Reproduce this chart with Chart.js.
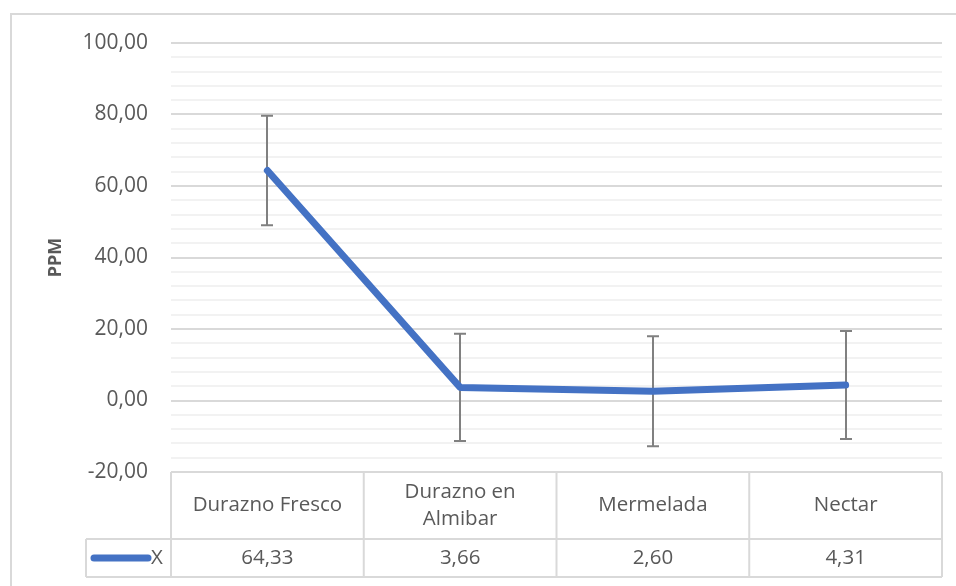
<!DOCTYPE html>
<html>
<head>
<meta charset="utf-8">
<script src="https://cdn.jsdelivr.net/npm/chart.js@4.4.0/dist/chart.umd.min.js"></script>
<style>
    html, body { margin: 0; padding: 0; background: #fff; }
    #wrap { width: 956px; height: 586px; position: relative; }
</style>
</head>
<body>
<div id="wrap"><canvas id="ppmChart" width="956" height="586"></canvas></div>
<script>
var categories = [['Durazno Fresco'], ['Durazno en', 'Almibar'], ['Mermelada'], ['Nectar']];
var seriesName = 'X';
var values = [64.33, 3.66, 2.60, 4.31];
var errors = [15.3, 15.0, 15.4, 15.1];
var yTicks = [-20, 0, 20, 40, 60, 80, 100];

var fmt = function (v) {
    return v.toFixed(2).replace('.', ',');
};

var font = '"Open Sans", "Noto Sans", sans-serif';
var textColor = '#595959';
var lineColor = '#4472C4';

// border of the chart frame
var framePlugin = {
    id: 'frame',
    beforeDraw: function (chart) {
        var ctx = chart.ctx;
        ctx.save();
        ctx.strokeStyle = '#d9d9d9';
        ctx.lineWidth = 2;
        ctx.beginPath();
        ctx.moveTo(11, 600);
        ctx.lineTo(11, 14);
        ctx.lineTo(970, 14);
        ctx.stroke();
        ctx.restore();
    }
};

// error bars behind the line
var errorBarPlugin = {
    id: 'errorBars',
    beforeDatasetsDraw: function (chart) {
        var ctx = chart.ctx;
        var x = chart.scales.x;
        var y = chart.scales.y;
        ctx.save();
        ctx.strokeStyle = '#808080';
        ctx.lineWidth = 2;
        for (var i = 0; i < values.length; i++) {
            var px = Math.round(x.getPixelForValue(i));
            var top = y.getPixelForValue(values[i] + errors[i]);
            var bot = y.getPixelForValue(values[i] - errors[i]);
            ctx.beginPath();
            ctx.moveTo(px, top);
            ctx.lineTo(px, bot);
            ctx.moveTo(px - 6, top);
            ctx.lineTo(px + 6, top);
            ctx.moveTo(px - 6, bot);
            ctx.lineTo(px + 6, bot);
            ctx.stroke();
        }
        ctx.restore();
    }
};

// data table under the plot
var dataTablePlugin = {
    id: 'dataTable',
    afterDraw: function (chart) {
        var ctx = chart.ctx;
        var area = chart.chartArea;
        var x = chart.scales.x;
        var n = categories.length;
        var colW = (area.right - area.left) / n;
        var top = area.bottom;
        var mid = top + 67;
        var bottom = mid + 38;
        var legendLeft = 86;
        ctx.save();
        ctx.strokeStyle = '#d9d9d9';
        ctx.lineWidth = 2;
        ctx.beginPath();
        ctx.moveTo(area.left, top);
        ctx.lineTo(area.right, top);
        ctx.moveTo(legendLeft, mid);
        ctx.lineTo(area.right, mid);
        ctx.moveTo(legendLeft, bottom);
        ctx.lineTo(area.right, bottom);
        ctx.moveTo(legendLeft, mid);
        ctx.lineTo(legendLeft, bottom);
        for (var c = 0; c <= n; c++) {
            var cx = area.left + c * colW;
            ctx.moveTo(cx, top);
            ctx.lineTo(cx, bottom);
        }
        ctx.stroke();

        ctx.fillStyle = textColor;
        ctx.font = '20.5px ' + font;
        ctx.textAlign = 'center';
        ctx.textBaseline = 'middle';
        for (var i = 0; i < n; i++) {
            var px = x.getPixelForValue(i);
            var lines = categories[i];
            var lh = 27;
            var startY = (top + mid) / 2 - (lines.length - 1) * lh / 2;
            for (var l = 0; l < lines.length; l++) {
                ctx.fillText(lines[l], px, startY + l * lh);
            }
            ctx.fillText(fmt(values[i]), px, (mid + bottom) / 2);
        }

        // legend key
        ctx.strokeStyle = lineColor;
        ctx.lineWidth = 7;
        ctx.lineCap = 'round';
        ctx.beginPath();
        ctx.moveTo(94, (mid + bottom) / 2);
        ctx.lineTo(148, (mid + bottom) / 2);
        ctx.stroke();
        ctx.textAlign = 'left';
        ctx.fillText(seriesName, 151, (mid + bottom) / 2);
        ctx.restore();
    }
};

new Chart(document.getElementById('ppmChart').getContext('2d'), {
    type: 'line',
    data: {
        labels: categories.map(function (c) { return c.join(' '); }),
        datasets: [{
            label: seriesName,
            data: values,
            borderColor: lineColor,
            borderWidth: 7,
            borderCapStyle: 'round',
            borderJoinStyle: 'round',
            pointRadius: 0,
            tension: 0,
            fill: false
        }]
    },
    options: {
        responsive: false,
        animation: false,
        layout: {
            padding: { top: 43, bottom: 114, left: 0, right: 14 }
        },
        plugins: {
            legend: { display: false },
            tooltip: { enabled: false }
        },
        scales: {
            x: {
                display: false,
                offset: true
            },
            y: {
                min: yTicks[0],
                max: yTicks[yTicks.length - 1],
                afterFit: function (scale) {
                    scale.width = 171;
                },
                ticks: {
                    stepSize: 4,
                    autoSkip: false,
                    padding: 23,
                    color: textColor,
                    font: { family: font, size: 21 },
                    callback: function (v) {
                        return yTicks.indexOf(v) >= 0 ? fmt(v) : '';
                    }
                },
                grid: {
                    drawTicks: false,
                    lineWidth: 2,
                    color: function (ctx) {
                        return yTicks.indexOf(ctx.tick.value) >= 0 ? '#d9d9d9' : '#f2f2f2';
                    }
                },
                border: { display: false },
                title: {
                    display: true,
                    text: 'PPM',
                    color: textColor,
                    font: { family: font, size: 18, weight: 'bold' },
                    padding: { top: 45, bottom: 0 }
                }
            }
        }
    },
    plugins: [framePlugin, errorBarPlugin, dataTablePlugin]
});
</script>
</body>
</html>
